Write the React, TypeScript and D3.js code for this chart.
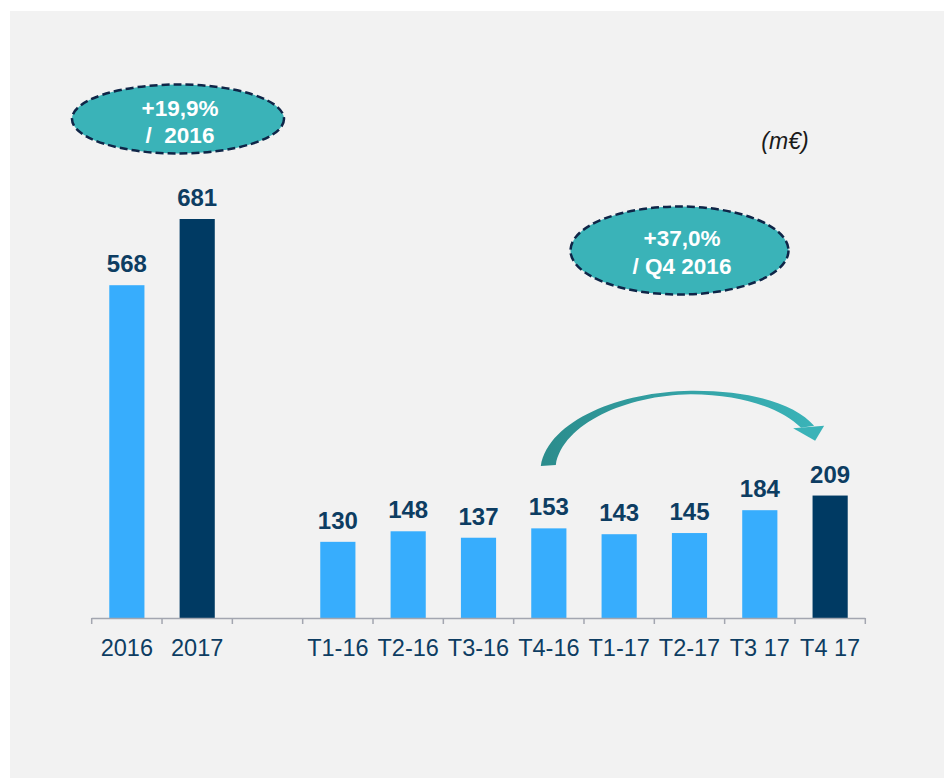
import React from 'react';
import * as d3 from 'd3';

// data
const categories = ['2016', '2017', '', 'T1-16', 'T2-16', 'T3-16', 'T4-16', 'T1-17', 'T2-17', 'T3 17', 'T4 17'];
const values: (number | null)[] = [568, 681, null, 130, 148, 137, 153, 143, 145, 184, 209];
const highlighted = ['2017', 'T4 17'];
const bubbleYear = ['+19,9%', '/  2016'];
const bubbleQuarter = ['+37,0%', '/ Q4 2016'];
const unitLabel = '(m€)';

const W = 944;
const H = 778;
const baseY = 618;

const LIGHT = '#37adfd';
const DARK = '#003a63';
const NAVY = '#0d3d62';
const TEAL = '#3ab3b8';
const font = '"Liberation Sans", Arial, sans-serif';

export default function App() {
  const x = d3.scaleBand<string>()
    .domain(categories)
    .range([91.7, 865.3])
    .paddingInner(0.5)
    .paddingOuter(0.25);

  const y = d3.scaleLinear().domain([0, 681]).range([baseY, 219]);

  const bw = x.bandwidth();
  const step = x.step();
  const [r0, r1] = x.range();
  const ticks = d3.range(categories.length + 1).map(i => r0 + i * step);

  // curved arrow from T4-16 to T4 17
  const ax = x('T4-16')! + bw / 2;
  const bx = x('T4 17')! + bw / 2;
  const top = y(153) - 137.5;
  const arrowPath = `M${ax - 8},466 C${ax},420 ${ax + 72},${top + 1} ${ax + 142},${top}
    C${ax + 202},${top - 0.5} ${bx - 35},${top + 13} ${bx - 16},${top + 35}
    L${bx - 29},${top + 37}
    C${bx - 47},${top + 19} ${ax + 197},${top + 4} ${ax + 142},${top + 3.5}
    C${ax + 77},${top + 4.5} ${ax + 14},${top + 33} ${ax + 7},465 Z`;
  const headPath = `M${bx - 37},${top + 37.5} L${bx - 6},${top + 35} L${bx - 15},${top + 50} Z`;

  return (
    <svg width={W} height={H} style={{ position: 'absolute', left: 0, top: 0 }}>
      <defs>
        <linearGradient id="arrowGrad" x1="0" x2="1" y1="0" y2="0">
          <stop offset="0" stopColor="#2b8c8c" />
          <stop offset="0.45" stopColor="#33a0a3" />
          <stop offset="1" stopColor={TEAL} />
        </linearGradient>
      </defs>
      <rect x={0} y={0} width={W} height={H} fill="#ffffff" />
      <rect x={10} y={11} width={W - 10} height={H - 11} fill="#f2f2f2" />

      {categories.map((c, i) => {
        const v = values[i];
        if (v == null) return null;
        const xx = x(c)!;
        return (
          <g key={c}>
            <rect x={xx} y={y(v)} width={bw} height={baseY - y(v)}
              fill={highlighted.includes(c) ? DARK : LIGHT} />
            <text x={xx + bw / 2} y={y(v) - 13} textAnchor="middle"
              fontFamily={font} fontWeight="bold" fontSize={24} fill={NAVY}>{v}</text>
          </g>
        );
      })}

      <line x1={r0} x2={r1} y1={baseY + 0.5} y2={baseY + 0.5} stroke="#a3a6b0" strokeWidth={1.5} />
      {ticks.map((t, i) => (
        <line key={i} x1={t} x2={t} y1={baseY} y2={baseY + 6} stroke="#a3a6b0" strokeWidth={1.5} />
      ))}
      {categories.map(c => c && (
        <text key={'l' + c} x={x(c)! + bw / 2} y={655.5} textAnchor="middle"
          fontFamily={font} fontSize={23.5} fill={NAVY}>{c}</text>
      ))}

      <path d={arrowPath} fill="url(#arrowGrad)" />
      <path d={headPath} fill={TEAL} />

      <ellipse cx={178} cy={119} rx={106} ry={34.5} fill={TEAL}
        stroke="#0f2547" strokeWidth={2.5} strokeDasharray="8 4" />
      {bubbleYear.map((t, i) => (
        <text key={t} x={180} y={116 + i * 27} textAnchor="middle" fontFamily={font}
          fontWeight="bold" fontSize={22.5} fill="#ffffff" style={{ whiteSpace: 'pre' }}>{t}</text>
      ))}

      <ellipse cx={679.5} cy={250.5} rx={109} ry={44} fill={TEAL}
        stroke="#0f2547" strokeWidth={2.5} strokeDasharray="8 4" />
      {bubbleQuarter.map((t, i) => (
        <text key={t} x={682} y={245.5 + i * 28} textAnchor="middle" fontFamily={font}
          fontWeight="bold" fontSize={22.5} fill="#ffffff">{t}</text>
      ))}

      <text x={785} y={149} textAnchor="middle" fontFamily={font} fontStyle="italic"
        fontSize={23} fill="#1a1a1a">{unitLabel}</text>
    </svg>
  );
}
